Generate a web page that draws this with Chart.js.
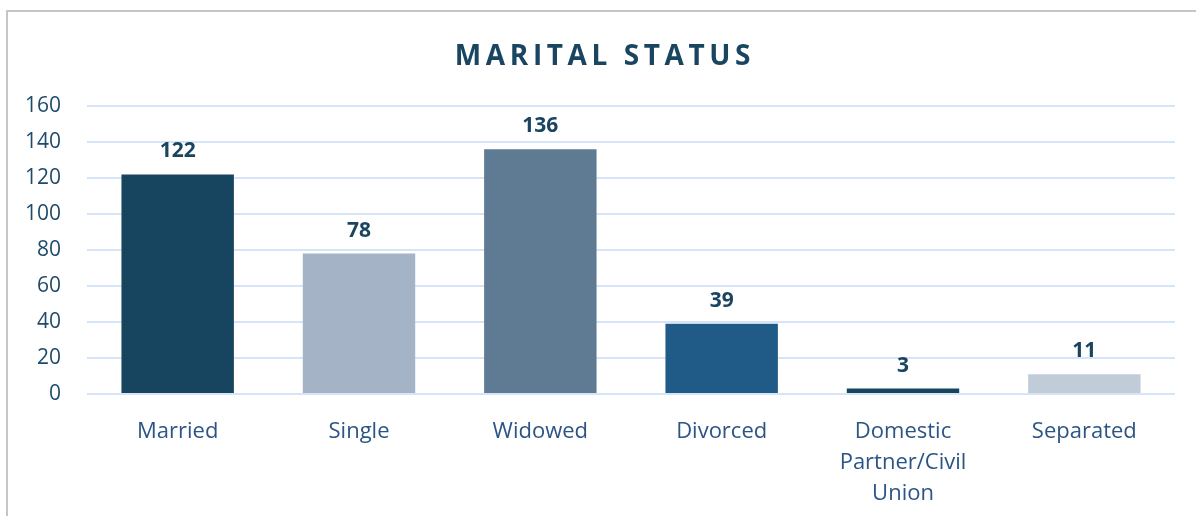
<!DOCTYPE html>
<html lang="en">
<head>
  <meta charset="UTF-8">
  <title>Marital Status</title>
  <script src="https://cdn.jsdelivr.net/npm/chart.js"></script>
  <style>
    html, body { margin: 0; padding: 0; background: #fff; }
    body { width: 1196px; height: 516px; overflow: hidden; position: relative; }
    .frame {
      position: absolute; left: 6px; top: 10px; width: 1300px; height: 600px;
      border-left: 2px solid #c6c6c6; border-top: 2px solid #c6c6c6;
    }
    #wrap { position: absolute; left: 0; top: 0; width: 1196px; height: 516px; }
  </style>
</head>
<body>
  <div class="frame"></div>
  <div id="wrap"><canvas id="maritalChart"></canvas></div>
  <script>
    const categories = ['Married', 'Single', 'Widowed', 'Divorced', ['Domestic', 'Partner/Civil', 'Union'], 'Separated'];
    const counts = [122, 78, 136, 39, 3, 11];
    const barColors = ['#17445f', '#a4b4c6', '#5f7b93', '#1f5b86', '#17445f', '#c0ccd8'];
    const yTicks = [0, 20, 40, 60, 80, 100, 120, 140, 160];

    const FONT = '"Open Sans", "Noto Sans", sans-serif';

    // title with letter spacing, drawn on the canvas
    const titlePlugin = {
      id: 'spacedTitle',
      afterDraw(chart) {
        const ctx = chart.ctx;
        ctx.save();
        ctx.font = 'bold 28px ' + FONT;
        ctx.fillStyle = '#1a4561';
        ctx.letterSpacing = '4.6px';
        ctx.textAlign = 'center';
        ctx.textBaseline = 'alphabetic';
        ctx.fillText('MARITAL STATUS', 605, 65);
        ctx.restore();
      }
    };

    // value labels above each bar
    const valueLabels = {
      id: 'valueLabels',
      afterDatasetsDraw(chart) {
        const ctx = chart.ctx;
        const meta = chart.getDatasetMeta(0);
        ctx.save();
        ctx.font = 'bold 21px ' + FONT;
        ctx.fillStyle = '#1a4561';
        ctx.textAlign = 'center';
        ctx.textBaseline = 'alphabetic';
        meta.data.forEach((bar, i) => {
          ctx.fillText(String(counts[i]), bar.x, bar.y - 17);
        });
        ctx.restore();
      }
    };

    new Chart(document.getElementById('maritalChart'), {
      type: 'bar',
      data: {
        labels: categories,
        datasets: [{
          data: counts,
          backgroundColor: barColors,
          borderWidth: 0,
          categoryPercentage: 0.62,
          barPercentage: 1
        }]
      },
      options: {
        responsive: true,
        maintainAspectRatio: false,
        animation: false,
        layout: { padding: { left: 0, right: 21, top: 106, bottom: 0 } },
        plugins: {
          legend: { display: false },
          tooltip: { enabled: false },
          title: { display: false }
        },
        scales: {
          x: {
            grid: { display: false, drawTicks: false },
            border: { display: false },
            ticks: {
              color: '#2c5585',
              font: { family: FONT, size: 22, lineHeight: 1.41 },
              padding: 22,
              maxRotation: 0,
              autoSkip: false
            },
            afterFit(scale) { scale.height = 122; }
          },
          y: {
            min: 0,
            max: 160,
            afterBuildTicks(scale) { scale.ticks = yTicks.map(v => ({ value: v })); },
            grid: { color: '#d6e4f7', lineWidth: 2, drawTicks: false },
            border: { display: false },
            ticks: {
              color: '#1f4b6b',
              font: { family: FONT, size: 21 },
              padding: 26
            },
            afterFit(scale) { scale.width = 87; }
          }
        }
      },
      plugins: [titlePlugin, valueLabels]
    });
  </script>
</body>
</html>
